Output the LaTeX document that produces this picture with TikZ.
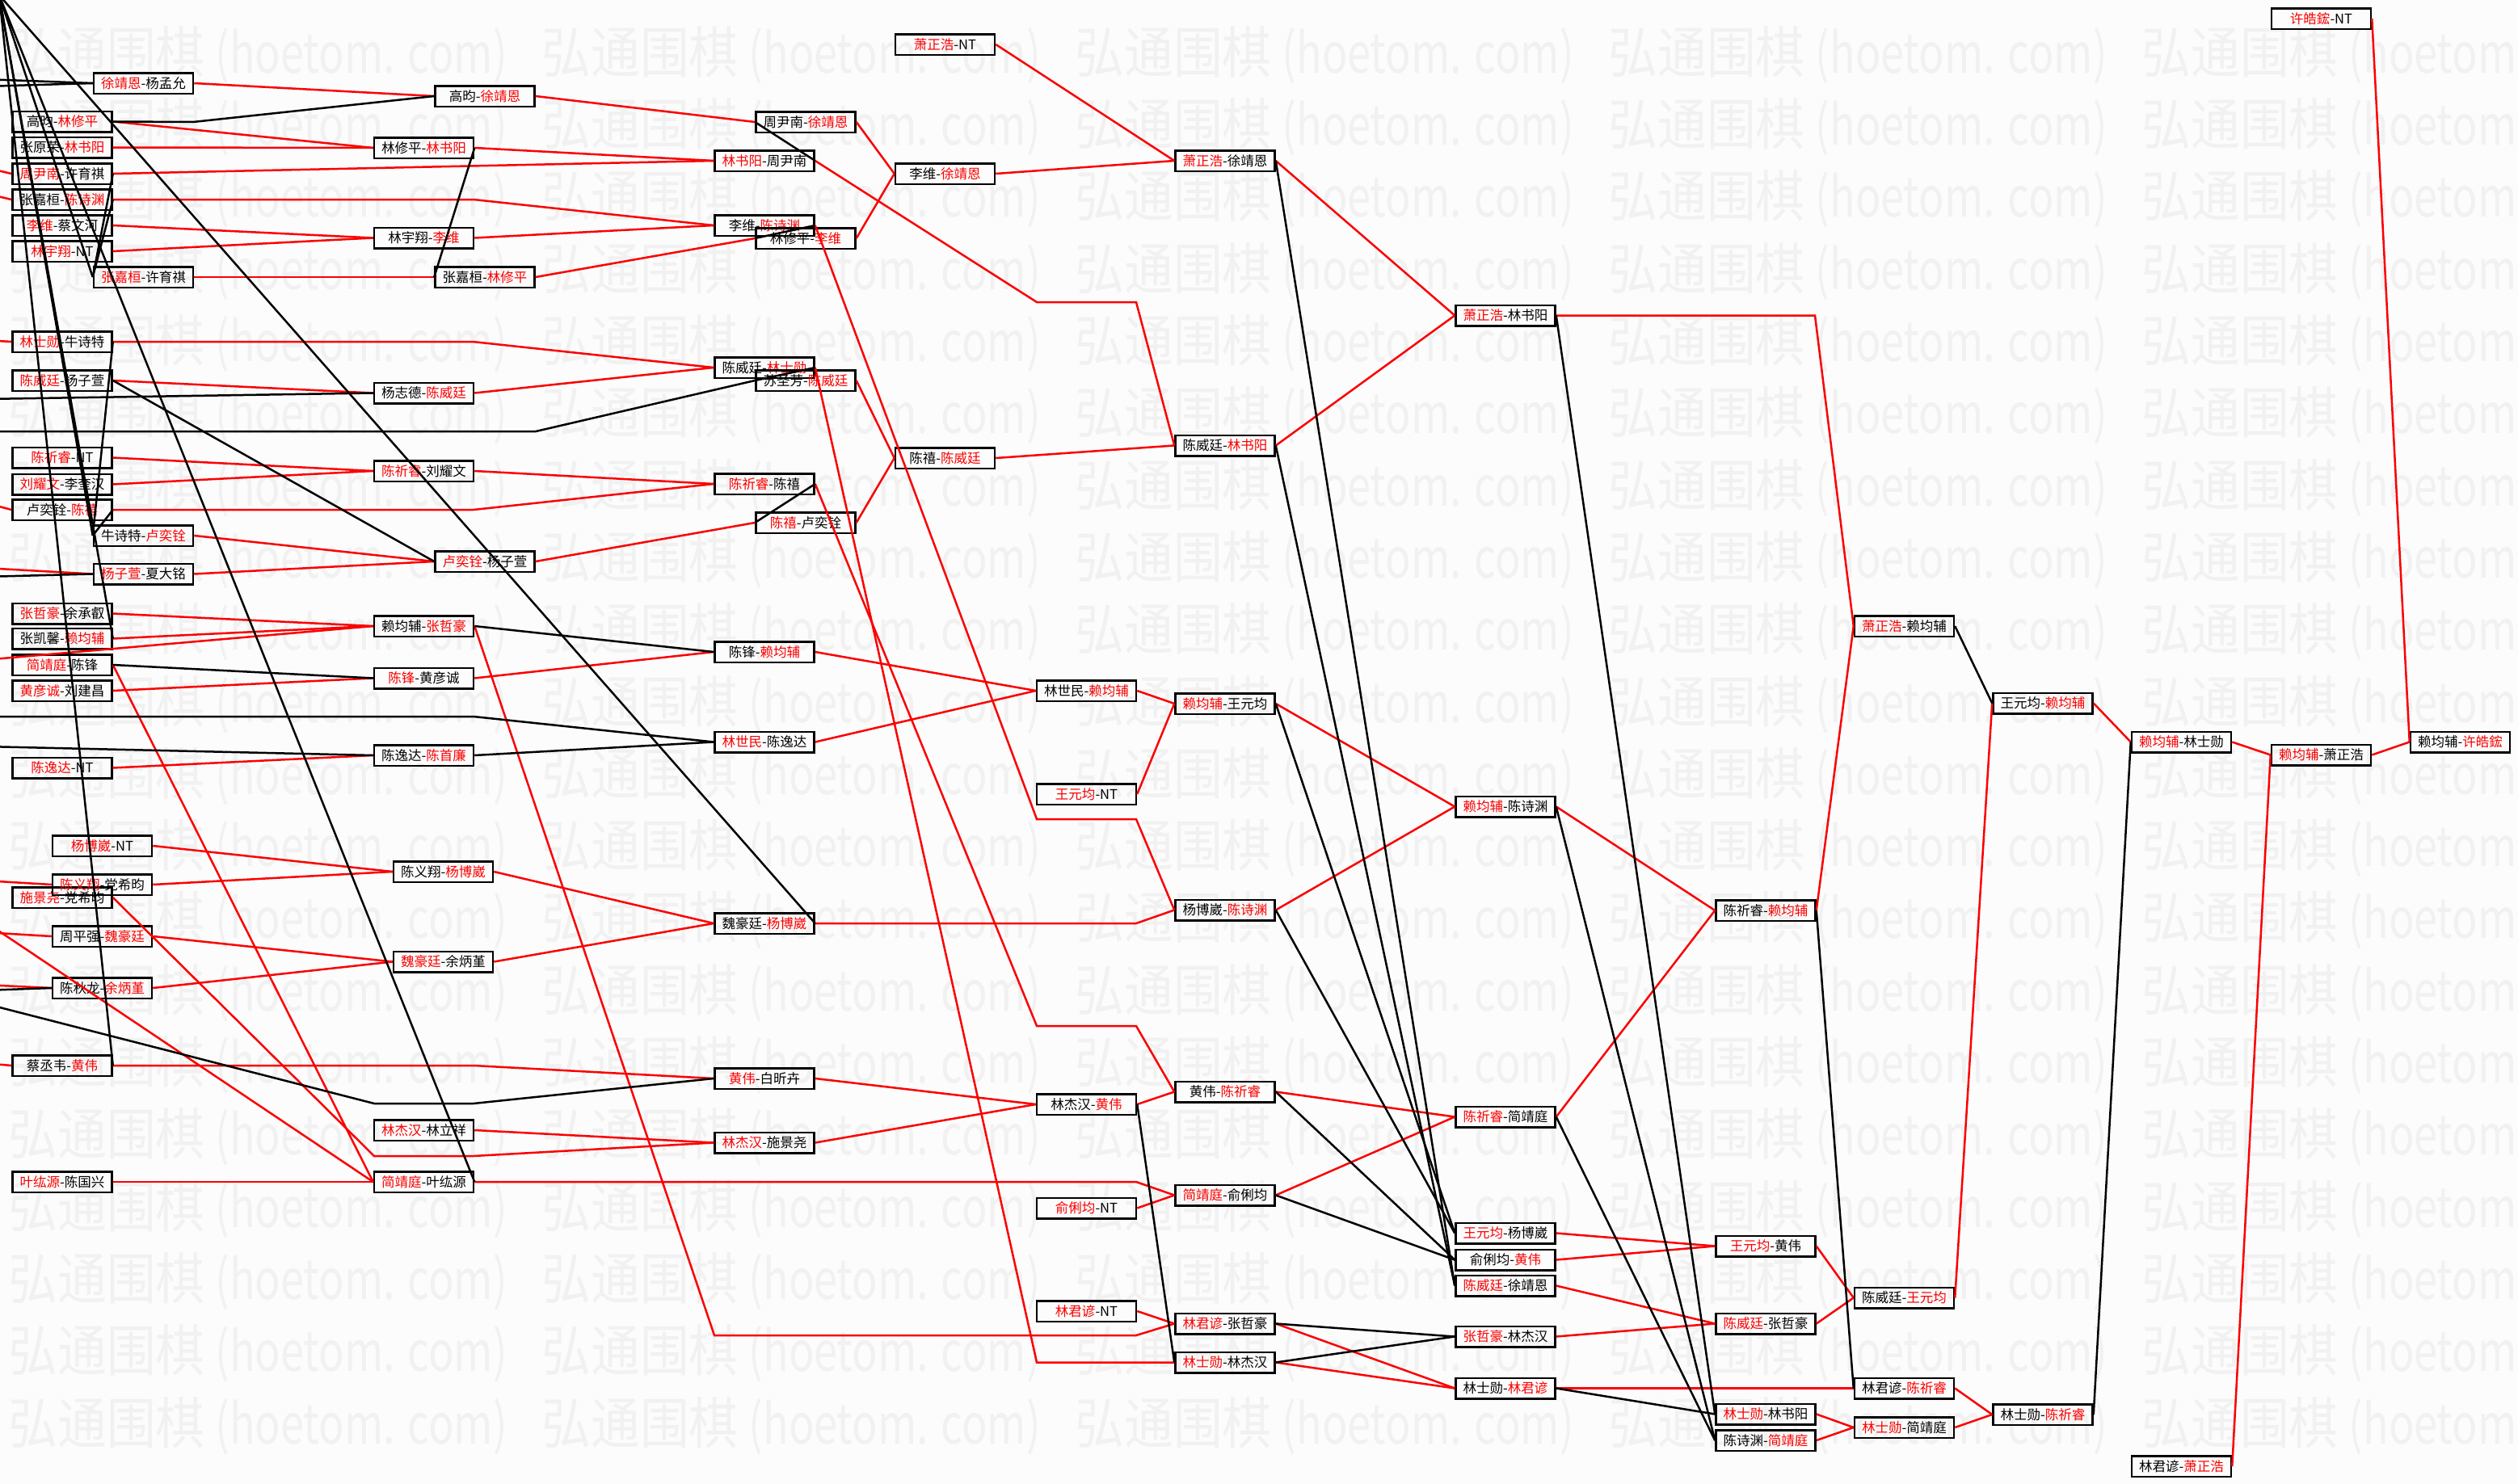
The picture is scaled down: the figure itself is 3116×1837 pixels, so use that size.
\documentclass[tikz,border=0pt]{standalone}
\usepackage{fontspec}
\usepackage{xcolor}
\usepackage{graphicx}
\newfontfamily\cjk{Noto Sans CJK SC}
\definecolor{winred}{RGB}{250,0,0}
\definecolor{markgray}{RGB}{241,241,241}
\definecolor{paper}{RGB}{252,252,252}
\newcommand{\wl}[2]{\textcolor{winred}{#1}-#2}
\newcommand{\lw}[2]{#1-\textcolor{winred}{#2}}

\begin{document}
\begin{tikzpicture}[
    x=0.1mm, y=-0.1mm,
    match/.style={draw=black, rectangle, minimum width=12.3mm, minimum height=2.55mm, inner sep=0pt, line width=0.25mm, font=\cjk\fontsize{4.7}{5}\selectfont},
    win/.style={draw=winred, line width=0.25mm},
    lose/.style={draw=black, line width=0.25mm},
    wmark/.style={anchor=west, inner sep=0pt, text=markgray, font=\cjk},
]
  \useasboundingbox[fill=paper] (0,0) rectangle (3116,1837);
  \foreach \row in {0,...,19} {
    \foreach \col in {0,...,4} {
      \node[wmark] (wm-\row-\col) at (10+660*\col, 68+89.3*\row) {\resizebox{24.3mm}{5.8mm}{弘通围棋}\hspace{1.3mm}\resizebox{36.1mm}{5.6mm}{(hoetom. com)}};
    }
  }
  \coordinate (lb) at (-1,-6);
  \coordinate (in1) at (-20,98);
  \coordinate (in2) at (-20,107);
  \coordinate (in3) at (-20,207);
  \coordinate (in4) at (-20,239);
  \coordinate (in5) at (-20,421);
  \coordinate (in6) at (-20,494);
  \coordinate (in7) at (-20,534);
  \coordinate (in8) at (-20,622);
  \coordinate (in9) at (-20,703);
  \coordinate (in10) at (-20,714);
  \coordinate (in11) at (-20,817);
  \coordinate (in12) at (-20,887);
  \coordinate (in13) at (-20,924);
  \coordinate (in14) at (-20,1090);
  \coordinate (in15) at (-20,1140);
  \coordinate (in16) at (-20,1154);
  \coordinate (in17) at (-20,1219);
  \coordinate (in18) at (-20,1226);
  \coordinate (in19) at (-20,1242);
  \coordinate (in20) at (-20,1316);

  \node[match] (a1) at (77,150.5) {\lw{高昀}{林修平}};
  \node[match] (a2) at (77,182.5) {\lw{张原荣}{林书阳}};
  \node[match] (a3) at (77,215) {\wl{周尹南}{许育祺}};
  \node[match] (a4) at (77,247) {\lw{张嘉桓}{陈诗渊}};
  \node[match] (a5) at (77,279) {\wl{李维}{蔡文河}};
  \node[match] (a6) at (77,311) {\wl{林宇翔}{NT}};
  \node[match] (a7) at (77,423) {\wl{林士勋}{牛诗特}};
  \node[match] (a8) at (77,471) {\wl{陈威廷}{杨子萱}};
  \node[match] (a9) at (77,566.5) {\wl{陈祈睿}{NT}};
  \node[match] (a10) at (77,599.5) {\wl{刘耀文}{李奎汉}};
  \node[match] (a11) at (77,631) {\lw{卢奕铨}{陈禧}};
  \node[match] (a12) at (77,759.5) {\wl{张哲豪}{余承叡}};
  \node[match] (a13) at (77,790.5) {\lw{张凯馨}{赖均辅}};
  \node[match] (a14) at (77,823) {\wl{简靖庭}{陈锋}};
  \node[match] (a15) at (77,855) {\wl{黄彦诚}{刘建昌}};
  \node[match] (a16) at (77,950.5) {\wl{陈逸达}{NT}};
  \node[match] (a17) at (77,1111) {\wl{施景尧}{党希昀}};
  \node[match] (a18) at (77,1319) {\lw{蔡丞韦}{黄伟}};
  \node[match] (a19) at (77,1463) {\wl{叶纮源}{陈国兴}};
  \node[match] (p1) at (126.5,1047) {\wl{杨博崴}{NT}};
  \node[match] (p2) at (126.5,1095) {\wl{陈义翔}{党希昀}};
  \node[match] (p3) at (126.5,1159) {\lw{周平强}{魏豪廷}};
  \node[match] (p4) at (126.5,1223) {\lw{陈秋龙}{余炳堇}};
  \node[match] (b1) at (177.5,103) {\wl{徐靖恩}{杨孟允}};
  \node[match] (b2) at (177.5,343) {\wl{张嘉桓}{许育祺}};
  \node[match] (b3) at (177.5,663) {\lw{牛诗特}{卢奕铨}};
  \node[match] (b4) at (177.5,710.5) {\wl{杨子萱}{夏大铭}};
  \node[match] (c1) at (524.5,183) {\lw{林修平}{林书阳}};
  \node[match] (c2) at (524.5,294.5) {\lw{林宇翔}{李维}};
  \node[match] (c3) at (524.5,486.5) {\lw{杨志德}{陈威廷}};
  \node[match] (c4) at (524.5,583) {\wl{陈祈睿}{刘耀文}};
  \node[match] (c5) at (524.5,775) {\lw{赖均辅}{张哲豪}};
  \node[match] (c6) at (524.5,839.5) {\wl{陈锋}{黄彦诚}};
  \node[match] (c7) at (524.5,935) {\lw{陈逸达}{陈首廉}};
  \node[match] (c8) at (524.5,1399) {\wl{林杰汉}{林立祥}};
  \node[match] (c9) at (524.5,1463) {\wl{简靖庭}{叶纮源}};
  \node[match] (q1) at (548.5,1079) {\lw{陈义翔}{杨博崴}};
  \node[match] (q2) at (548.5,1190.5) {\wl{魏豪廷}{余炳堇}};
  \node[match] (d1) at (600,119) {\lw{高昀}{徐靖恩}};
  \node[match] (d2) at (600,343) {\lw{张嘉桓}{林修平}};
  \node[match] (d3) at (600,695) {\wl{卢奕铨}{杨子萱}};
  \node[match] (e1) at (946,199) {\wl{林书阳}{周尹南}};
  \node[match] (e2) at (946,279) {\lw{李维}{陈诗渊}};
  \node[match] (e3) at (946,455) {\lw{陈威廷}{林士勋}};
  \node[match] (e4) at (946,599) {\wl{陈祈睿}{陈禧}};
  \node[match] (e5) at (946,807) {\lw{陈锋}{赖均辅}};
  \node[match] (e6) at (946,918.5) {\wl{林世民}{陈逸达}};
  \node[match] (e7) at (946,1143) {\lw{魏豪廷}{杨博崴}};
  \node[match] (e8) at (946,1335) {\wl{黄伟}{白昕卉}};
  \node[match] (e9) at (946,1414.5) {\wl{林杰汉}{施景尧}};
  \node[match] (f1) at (997,151) {\lw{周尹南}{徐靖恩}};
  \node[match] (f2) at (997,295) {\lw{林修平}{李维}};
  \node[match] (f3) at (997,471) {\lw{苏圣芳}{陈威廷}};
  \node[match] (f4) at (997,647) {\wl{陈禧}{卢奕铨}};
  \node[match] (g1) at (1169.5,55) {\wl{萧正浩}{NT}};
  \node[match] (g2) at (1169.5,215) {\lw{李维}{徐靖恩}};
  \node[match] (g3) at (1169.5,567) {\lw{陈禧}{陈威廷}};
  \node[match] (h1) at (1344.5,855) {\lw{林世民}{赖均辅}};
  \node[match] (h2) at (1344.5,983) {\wl{王元均}{NT}};
  \node[match] (h3) at (1344.5,1367) {\lw{林杰汉}{黄伟}};
  \node[match] (h4) at (1344.5,1495.5) {\wl{俞俐均}{NT}};
  \node[match] (h5) at (1344.5,1623) {\wl{林君谚}{NT}};
  \node[match] (i1) at (1516,199) {\wl{萧正浩}{徐靖恩}};
  \node[match] (i2) at (1516,551.5) {\lw{陈威廷}{林书阳}};
  \node[match] (i3) at (1516,871) {\wl{赖均辅}{王元均}};
  \node[match] (i4) at (1516,1126.5) {\lw{杨博崴}{陈诗渊}};
  \node[match] (i5) at (1516,1351.5) {\lw{黄伟}{陈祈睿}};
  \node[match] (i6) at (1516,1479.5) {\wl{简靖庭}{俞俐均}};
  \node[match] (i7) at (1516,1638.5) {\wl{林君谚}{张哲豪}};
  \node[match] (i8) at (1516,1686.5) {\wl{林士勋}{林杰汉}};
  \node[match] (j1) at (1863,390.5) {\wl{萧正浩}{林书阳}};
  \node[match] (j2) at (1863,998.5) {\wl{赖均辅}{陈诗渊}};
  \node[match] (j3) at (1863,1382.5) {\wl{陈祈睿}{简靖庭}};
  \node[match] (j4) at (1863,1526.5) {\wl{王元均}{杨博崴}};
  \node[match] (j5) at (1863,1559.5) {\lw{俞俐均}{黄伟}};
  \node[match] (j6) at (1863,1591.5) {\wl{陈威廷}{徐靖恩}};
  \node[match] (j7) at (1863,1654.5) {\wl{张哲豪}{林杰汉}};
  \node[match] (j8) at (1863,1718.5) {\lw{林士勋}{林君谚}};
  \node[match] (k1) at (2185,1127) {\lw{陈祈睿}{赖均辅}};
  \node[match] (k2) at (2185,1542.5) {\wl{王元均}{黄伟}};
  \node[match] (k3) at (2185,1638.5) {\wl{陈威廷}{张哲豪}};
  \node[match] (k4) at (2185,1750.5) {\wl{林士勋}{林书阳}};
  \node[match] (k5) at (2185,1783) {\lw{陈诗渊}{简靖庭}};
  \node[match] (l1) at (2356.5,775) {\wl{萧正浩}{赖均辅}};
  \node[match] (l2) at (2356.5,1606.5) {\lw{陈威廷}{王元均}};
  \node[match] (l3) at (2356.5,1718.5) {\lw{林君谚}{陈祈睿}};
  \node[match] (l4) at (2356.5,1767) {\wl{林士勋}{简靖庭}};
  \node[match] (m1) at (2528,870.5) {\lw{王元均}{赖均辅}};
  \node[match] (m2) at (2528,1751) {\lw{林士勋}{陈祈睿}};
  \node[match] (n1) at (2699.5,918.5) {\wl{赖均辅}{林士勋}};
  \node[match] (n2) at (2699.5,1815) {\lw{林君谚}{萧正浩}};
  \node[match] (o1) at (2872.5,23) {\wl{许皓鋐}{NT}};
  \node[match] (o2) at (2872.5,934.5) {\wl{赖均辅}{萧正浩}};
  \node[match] (r1) at (3044.5,918.5) {\lw{赖均辅}{许皓鋐}};

  \draw[win] (b1.east) -- (d1.west);
  \draw[win] (a1.east) -- (c1.west);
  \draw[win] (a2.east) -- (c1.west);
  \draw[win] (a3.east) -- (e1.west);
  \draw[win] (a4.east) -- (586,247) -- (e2.west);
  \draw[win] (a5.east) -- (c2.west);
  \draw[win] (a6.east) -- (c2.west);
  \draw[win] (b2.east) -- (d2.west);
  \draw[win] (c1.east) -- (e1.west);
  \draw[win] (c2.east) -- (e2.west);
  \draw[win] (d1.east) -- (f1.west);
  \draw[win] (d2.east) -- (f2.west);
  \draw[win] (e1.east) -- (1283,374) -- (1406,374) -- (i2.west);
  \draw[win] (f1.east) -- (g2.west);
  \draw[win] (f2.east) -- (g2.west);
  \draw[win] (g1.east) -- (i1.west);
  \draw[win] (g2.east) -- (i1.west);
  \draw[win] (e2.east) -- (1283,1014) -- (1406,1014) -- (i4.west);
  \draw[win] (a7.east) -- (585,423) -- (e3.west);
  \draw[win] (c3.east) -- (e3.west);
  \draw[win] (a8.east) -- (c3.west);
  \draw[win] (e3.east) -- (1283,1686.5) -- (i8.west);
  \draw[win] (f3.east) -- (g3.west);
  \draw[win] (g3.east) -- (i2.west);
  \draw[win] (a9.east) -- (c4.west);
  \draw[win] (a10.east) -- (c4.west);
  \draw[win] (c4.east) -- (e4.west);
  \draw[win] (a11.east) -- (586,631) -- (e4.west);
  \draw[win] (e4.east) -- (1283,1270) -- (1406,1270) -- (i5.west);
  \draw[win] (b3.east) -- (d3.west);
  \draw[win] (b4.east) -- (d3.west);
  \draw[win] (d3.east) -- (f4.west);
  \draw[win] (f4.east) -- (g3.west);
  \draw[win] (a12.east) -- (c5.west);
  \draw[win] (a13.east) -- (c5.west);
  \draw[win] (c5.east) -- (884,1653) -- (1406,1653) -- (i7.west);
  \draw[win] (c6.east) -- (e5.west);
  \draw[win] (a15.east) -- (c6.west);
  \draw[win] (a14.east) -- (c9.west);
  \draw[win] (e5.east) -- (h1.west);
  \draw[win] (e6.east) -- (h1.west);
  \draw[win] (a16.east) -- (c7.west);
  \draw[win] (h1.east) -- (i3.west);
  \draw[win] (h2.east) -- (i3.west);
  \draw[win] (p1.east) -- (q1.west);
  \draw[win] (p2.east) -- (q1.west);
  \draw[win] (p3.east) -- (q2.west);
  \draw[win] (p4.east) -- (q2.west);
  \draw[win] (q1.east) -- (e7.west);
  \draw[win] (q2.east) -- (e7.west);
  \draw[win] (e7.east) -- (1406,1143) -- (i4.west);
  \draw[win] (a17.east) -- (463,1431) -- (586,1431) -- (e9.west);
  \draw[win] (c8.east) -- (e9.west);
  \draw[win] (a18.east) -- (586,1319) -- (e8.west);
  \draw[win] (e8.east) -- (h3.west);
  \draw[win] (e9.east) -- (h3.west);
  \draw[win] (a19.east) -- (c9.west);
  \draw[win] (c9.east) -- (1406,1463) -- (i6.west);
  \draw[win] (h3.east) -- (i5.west);
  \draw[win] (h4.east) -- (i6.west);
  \draw[win] (h5.east) -- (i7.west);
  \draw[win] (i1.east) -- (j1.west);
  \draw[win] (i2.east) -- (j1.west);
  \draw[win] (i3.east) -- (j2.west);
  \draw[win] (i4.east) -- (j2.west);
  \draw[win] (i5.east) -- (j3.west);
  \draw[win] (i6.east) -- (j3.west);
  \draw[win] (i7.east) -- (j8.west);
  \draw[win] (i8.east) -- (j8.west);
  \draw[win] (j1.east) -- (2246,390.5) -- (l1.west);
  \draw[win] (j2.east) -- (k1.west);
  \draw[win] (j3.east) -- (k1.west);
  \draw[win] (k1.east) -- (l1.west);
  \draw[win] (j4.east) -- (k2.west);
  \draw[win] (j5.east) -- (k2.west);
  \draw[win] (j6.east) -- (k3.west);
  \draw[win] (j7.east) -- (k3.west);
  \draw[win] (k2.east) -- (l2.west);
  \draw[win] (k3.east) -- (l2.west);
  \draw[win] (l2.east) -- (m1.west);
  \draw[win] (j8.east) -- (l3.west);
  \draw[win] (k4.east) -- (l4.west);
  \draw[win] (k5.east) -- (l4.west);
  \draw[win] (l3.east) -- (m2.west);
  \draw[win] (l4.east) -- (m2.west);
  \draw[win] (m1.east) -- (n1.west);
  \draw[win] (n1.east) -- (o2.west);
  \draw[win] (n2.east) -- (o2.west);
  \draw[win] (o2.east) -- (r1.west);
  \draw[win] (o1.east) -- (r1.west);
  \draw[win] (in3) -- (a3.west);
  \draw[win] (in4) -- (a4.west);
  \draw[win] (in5) -- (a7.west);
  \draw[win] (in8) -- (a11.west);
  \draw[win] (in9) -- (b4.west);
  \draw[win] (in11) -- (c5.west);
  \draw[win] (in14) -- (p2.west);
  \draw[win] (in15) -- (c9.west);
  \draw[win] (in16) -- (p3.west);
  \draw[win] (in17) -- (p4.west);
  \draw[win] (in20) -- (a18.west);

  \draw[lose] (a1.east) -- (239,151) -- (d1.west);
  \draw[lose] (c1.east) -- (d2.west);
  \draw[lose] (a3.east) -- (b2.west);
  \draw[lose] (a4.east) -- (b2.west);
  \draw[lose] (a7.east) -- (b3.west);
  \draw[lose] (a11.east) -- (b3.west);
  \draw[lose] (a8.east) -- (d3.west);
  \draw[lose] (e1.east) -- (f1.west);
  \draw[lose] (e2.east) -- (f2.west);
  \draw[lose] (e3.east) -- (f3.west);
  \draw[lose] (in7) -- (663,534) -- (f3.west);
  \draw[lose] (in6) -- (c3.west);
  \draw[lose] (e4.east) -- (f4.west);
  \draw[lose] (c5.east) -- (e5.west);
  \draw[lose] (a14.east) -- (c6.west);
  \draw[lose] (in12) -- (586,887) -- (e6.west);
  \draw[lose] (in13) -- (c7.west);
  \draw[lose] (c7.east) -- (e6.west);
  \draw[lose] (in19) -- (463,1366) -- (586,1366) -- (e8.west);
  \draw[lose] (in1) -- (b1.west);
  \draw[lose] (in2) -- (b1.west);
  \draw[lose] (in18) -- (p4.west);
  \draw[lose] (in10) -- (b4.west);
  \draw[lose] (lb) -- (a18.east);
  \draw[lose] (lb) -- (a13.east);
  \draw[lose] (lb) -- (b3.west);
  \draw[lose] (lb) -- (c9.east);
  \draw[lose] (lb) -- (e7.east);
  \draw[lose] (lb) -- (b2.west);
  \draw[lose] (i1.east) -- (j6.west);
  \draw[lose] (i2.east) -- (j6.west);
  \draw[lose] (i3.east) -- (j4.west);
  \draw[lose] (i4.east) -- (j4.west);
  \draw[lose] (i5.east) -- (j5.west);
  \draw[lose] (i6.east) -- (j5.west);
  \draw[lose] (h3.east) -- (i8.west);
  \draw[lose] (i7.east) -- (j7.west);
  \draw[lose] (i8.east) -- (j7.west);
  \draw[lose] (j1.east) -- (k4.west);
  \draw[lose] (j2.east) -- (k5.west);
  \draw[lose] (j3.east) -- (k5.west);
  \draw[lose] (j8.east) -- (k4.west);
  \draw[lose] (k1.east) -- (l3.west);
  \draw[lose] (l1.east) -- (m1.west);
  \draw[lose] (m2.east) -- (n1.west);
\end{tikzpicture}
\end{document}
